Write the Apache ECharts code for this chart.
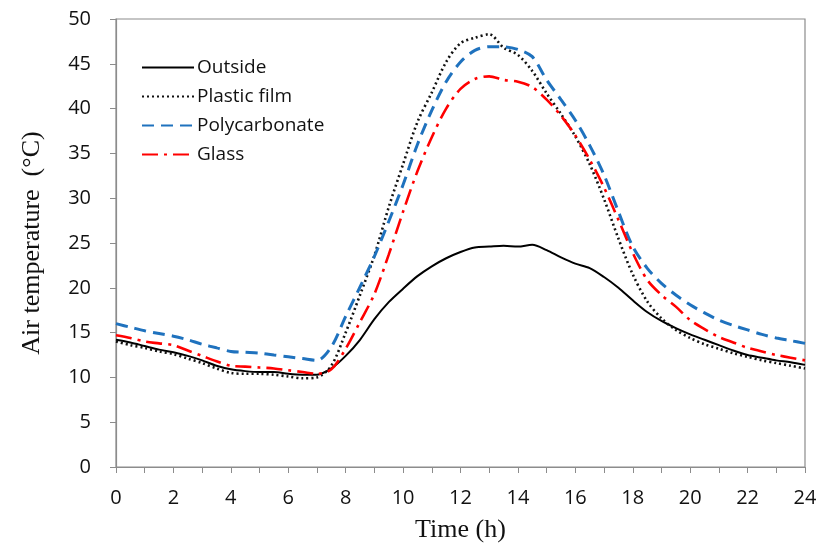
<!DOCTYPE html>
<html><head><meta charset="utf-8">
<script src="https://cdn.jsdelivr.net/npm/echarts@6/dist/echarts.min.js"></script>
<style>html,body{margin:0;padding:0;background:#fff}#c{width:816px;height:547px}</style>
</head><body><div id="c"></div>
<script>
const hours = [0,0.5,1,1.5,2,2.5,3,3.5,4,4.5,5,5.5,6,6.5,7,7.5,8,8.5,9,9.5,10,10.5,11,11.5,12,12.5,13,13.5,14,14.5,15,15.5,16,16.5,17,17.5,18,18.5,19,19.5,20,20.5,21,21.5,22,22.5,23,23.5,24];
const outside = [14.2,13.9,13.5,13.1,12.8,12.4,11.9,11.3,10.9,10.7,10.6,10.6,10.4,10.3,10.3,11.0,12.4,14.2,16.5,18.4,19.9,21.3,22.4,23.3,24.0,24.5,24.6,24.7,24.6,24.8,24.2,23.4,22.7,22.2,21.2,20.0,18.6,17.3,16.3,15.5,14.8,14.2,13.6,13.0,12.5,12.2,11.9,11.7,11.4];
const plasticFilm = [14.0,13.6,13.3,12.9,12.6,12.1,11.6,11.0,10.5,10.4,10.4,10.3,10.1,9.9,10.0,11.3,15.0,19.2,23.6,29.0,33.8,38.5,41.8,45.2,47.3,47.9,48.3,46.8,46.0,44.2,41.7,39.4,36.9,33.8,29.9,25.5,21.5,18.5,16.6,15.3,14.4,13.7,13.2,12.7,12.3,11.9,11.6,11.3,11.0];
const polycarbonate = [16.0,15.6,15.2,14.9,14.6,14.2,13.7,13.3,12.9,12.8,12.7,12.5,12.3,12.1,11.9,13.4,16.8,20.1,23.5,27.4,31.5,36.0,39.8,43.0,45.2,46.5,46.9,46.9,46.6,45.8,43.2,41.0,38.7,35.9,32.6,28.5,24.6,22.2,20.5,19.2,18.1,17.2,16.4,15.8,15.3,14.8,14.4,14.1,13.8];
const glass = [14.7,14.4,14.0,13.8,13.6,13.0,12.4,11.8,11.3,11.2,11.1,11.0,10.8,10.6,10.4,10.9,13.2,16.2,19.3,23.7,28.5,33.0,36.8,40.0,42.2,43.3,43.6,43.2,43.0,42.4,41.0,39.2,37.0,34.3,31.2,27.6,23.9,20.9,19.2,17.9,16.4,15.4,14.5,13.9,13.3,12.9,12.5,12.2,11.9];
const seriesNames = ['Outside','Plastic film','Polycarbonate','Glass'];

const pair = arr => hours.map((h,i)=>[h,arr[i]]);
const sans = '"Open Sans", "Noto Sans", sans-serif';
const serif = '"Liberation Serif", "DejaVu Serif", serif';

const chart = echarts.init(document.getElementById('c'), null, {renderer:'canvas'});
chart.setOption({
  animation:false,
  backgroundColor:'#fff',
  grid:{left:116,right:11,top:19,bottom:80,show:true,borderColor:'#8c8c8c',borderWidth:1.2,
        containLabel:false,outerBoundsMode:'none'},
  legend:{
    orient:'vertical',left:136,top:53,itemWidth:52,itemHeight:14,itemGap:10,
    itemStyle:{opacity:0},
    textStyle:{fontFamily:sans,fontSize:19,color:'#111',padding:[0,0,0,-2]},
    data:seriesNames
  },
  xAxis:{
    type:'value',min:0,max:24,interval:1,
    name:'Time (h)',nameLocation:'middle',nameGap:50,
    nameTextStyle:{fontFamily:serif,fontSize:26,color:'#111'},
    axisLine:{lineStyle:{color:'#8c8c8c',width:1.2}},
    axisTick:{show:true,length:6,lineStyle:{color:'#8c8c8c'}},
    axisLabel:{margin:21,fontFamily:sans,fontSize:20,color:'#111',
      formatter:v=> (v%2===0? String(v):'')},
    splitLine:{show:false}
  },
  yAxis:{
    type:'value',min:0,max:50,interval:5,
    name:'Air temperature  (°C)',nameLocation:'middle',nameGap:71,
    nameTextStyle:{fontFamily:serif,fontSize:26,color:'#111'},
    axisLine:{show:true,lineStyle:{color:'#8c8c8c',width:1.2}},
    axisTick:{show:true,length:6,lineStyle:{color:'#8c8c8c'}},
    axisLabel:{margin:25,fontFamily:sans,fontSize:20,color:'#111'},
    splitLine:{show:false}
  },
  series:[
    {name:seriesNames[0],type:'line',data:pair(outside),symbol:'none',smooth:0.3,
     lineStyle:{color:'#000',width:2,type:'solid'},itemStyle:{color:'#000'}},
    {name:seriesNames[1],type:'line',data:pair(plasticFilm),symbol:'none',smooth:0.3,
     lineStyle:{color:'#111',width:2.6,type:[2,3]},itemStyle:{color:'#111'}},
    {name:seriesNames[2],type:'line',data:pair(polycarbonate),symbol:'none',smooth:0.3,
     lineStyle:{color:'#1F72BE',width:3,type:[12,7]},itemStyle:{color:'#1F72BE'}},
    {name:seriesNames[3],type:'line',data:pair(glass),symbol:'none',smooth:0.3,
     lineStyle:{color:'#FF0000',width:2.6,type:[16,6,3,6]},itemStyle:{color:'#FF0000'}}
  ]
});
</script></body></html>
